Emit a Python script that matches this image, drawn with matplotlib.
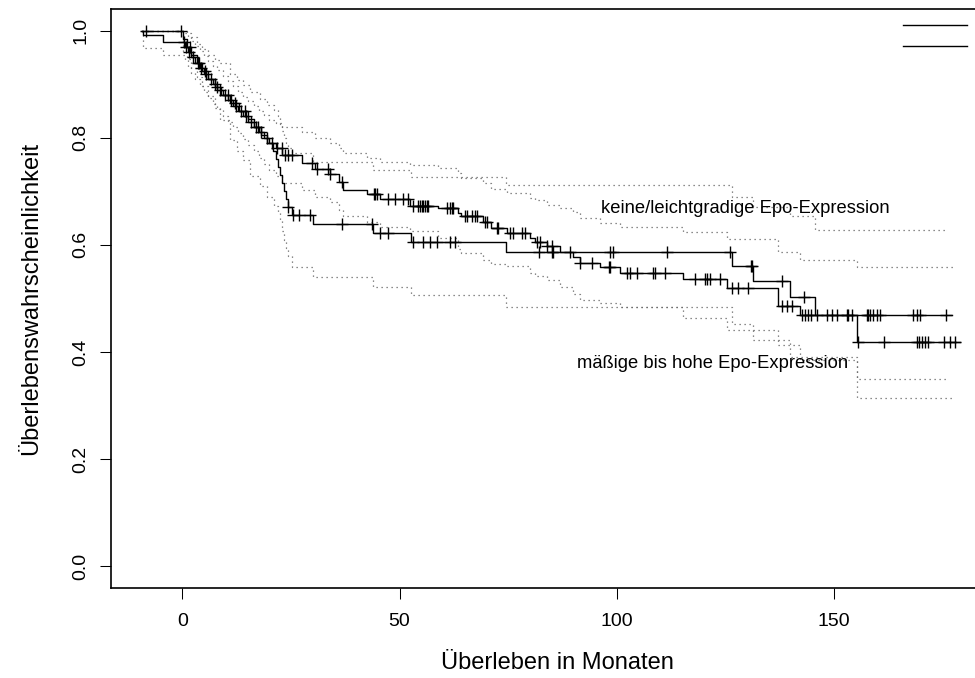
import numpy as np
import matplotlib
matplotlib.use("Agg")
import matplotlib.pyplot as plt
from matplotlib.lines import Line2D

plt.rcParams['font.family'] = ['Liberation Sans', 'DejaVu Sans']

# ---------------- data ----------------
x_ticks = [0, 50, 100, 150]
y_ticks = [0.0, 0.2, 0.4, 0.6, 0.8, 1.0]
y_tick_labels = ["0.0", "0.2", "0.4", "0.6", "0.8", "1.0"]
x_label = "Überleben in Monaten"
y_label = "Überlebenswahrscheinlichkeit"
label_keine = "keine/leichtgradige Epo-Expression"
label_maessig = "mäßige bis hohe Epo-Expression"

start_time = -9.3

# group A (steep early drop)
a_time = [0.2, 1.0, 2.0, 3.3, 4.5, 6.0, 7.5, 9.0, 11.0, 13.0,
          15.0, 16.5, 18.0, 19.5, 20.8, 21.5, 22.0, 22.5, 23.0, 23.4,
          23.8, 24.3, 25.3, 30.1, 43.9, 52.6, 74.6, 126.5, 131.4, 139.9,
          145.6]
a_surv = [0.985, 0.97, 0.955, 0.94, 0.925, 0.91, 0.895, 0.88, 0.865, 0.85,
          0.835, 0.82, 0.805, 0.79, 0.775, 0.76, 0.745, 0.73, 0.715, 0.70,
          0.685, 0.67, 0.655, 0.639, 0.623, 0.606, 0.586, 0.56, 0.532, 0.503,
          0.468]
a_end = 177.1
a_cens = [-8.4, -0.4, 1.8, 3.8, 5.2, 8.0, 10.5, 12.0, 14.5, 17.5,
          24.4, 25.5, 26.8, 29.4, 36.7, 43.6, 45.5, 47.4, 53.2, 55.5,
          57.0, 58.6, 61.6, 62.8, 82.0, 85.0, 85.4, 98.5, 99.2, 111.5,
          126.1, 130.9, 131.2, 138.0, 143.0, 146.0, 148.3, 149.5, 150.6, 152.9,
          153.3, 154.1, 157.5, 157.9, 158.3, 159.0, 159.8, 160.6, 168.3, 169.1,
          169.9, 175.9]
a_band_time = [-9.3, 0.2, 1.0, 2.0, 3.3, 4.5, 6.0, 7.5, 8.7, 11.0,
               12.5, 14.0, 15.6, 17.9, 19.5, 21.0, 22.0, 22.5, 23.0, 23.4,
               23.8, 24.3, 25.3, 30.1, 43.9, 52.6, 74.6, 126.5, 131.4, 139.9,
               145.6, 155.2]
a_upper = [1.0, 1.0, 0.995, 0.988, 0.975, 0.966, 0.955, 0.945, 0.939, 0.92,
           0.908, 0.898, 0.886, 0.872, 0.862, 0.852, 0.84, 0.826, 0.812, 0.80,
           0.79, 0.78, 0.771, 0.755, 0.74, 0.727, 0.712, 0.69, 0.67, 0.653,
           0.628, 0.628]
a_lower = [1.0, 0.96, 0.947, 0.93, 0.914, 0.897, 0.878, 0.855, 0.833, 0.796,
           0.775, 0.758, 0.728, 0.709, 0.69, 0.672, 0.66, 0.646, 0.625, 0.609,
           0.595, 0.58, 0.559, 0.54, 0.522, 0.506, 0.483, 0.453, 0.422, 0.39,
           0.39, 0.349]
a_band_end = 175.9

# group B (larger group, gradual decline)
b_time = [-9.0, -4.4, 0.5, 1.2, 2.0, 3.0, 4.0, 5.0, 6.0, 7.0,
          8.0, 9.3, 10.5, 11.7, 12.9, 14.0, 15.2, 16.4, 17.6, 18.8,
          20.0, 21.5, 23.0, 27.5, 30.5, 34.0, 36.0, 37.0, 42.4, 45.5,
          52.4, 58.9, 63.5, 64.2, 69.2, 71.0, 74.7, 80.0, 81.2, 83.9,
          87.0, 90.0, 91.5, 96.2, 100.8, 115.3, 125.3, 137.2, 142.2, 155.2]
b_surv = [0.992, 0.979, 0.97, 0.96, 0.95, 0.94, 0.93, 0.92, 0.91, 0.90,
          0.89, 0.88, 0.87, 0.86, 0.85, 0.84, 0.83, 0.82, 0.81, 0.80,
          0.79, 0.78, 0.768, 0.752, 0.742, 0.733, 0.718, 0.703, 0.695, 0.686,
          0.672, 0.668, 0.66, 0.653, 0.643, 0.632, 0.623, 0.612, 0.606, 0.597,
          0.587, 0.578, 0.567, 0.559, 0.548, 0.537, 0.52, 0.486, 0.468, 0.419]
b_end = 179.0
b_upper = [1.0, 1.0, 0.995, 0.988, 0.98, 0.972, 0.962, 0.953, 0.944, 0.935,
           0.926, 0.916, 0.906, 0.896, 0.886, 0.877, 0.868, 0.859, 0.85, 0.842,
           0.834, 0.828, 0.82, 0.81, 0.80, 0.79, 0.78, 0.771, 0.762, 0.755,
           0.749, 0.743, 0.735, 0.725, 0.715, 0.705, 0.696, 0.688, 0.684, 0.675,
           0.668, 0.662, 0.65, 0.64, 0.634, 0.624, 0.61, 0.587, 0.572, 0.559]
b_lower = [0.967, 0.954, 0.945, 0.933, 0.921, 0.909, 0.897, 0.886, 0.875, 0.864,
           0.853, 0.841, 0.83, 0.82, 0.808, 0.797, 0.786, 0.775, 0.763, 0.751,
           0.739, 0.728, 0.716, 0.702, 0.69, 0.68, 0.666, 0.653, 0.643, 0.634,
           0.625, 0.612, 0.593, 0.584, 0.572, 0.565, 0.56, 0.548, 0.542, 0.535,
           0.522, 0.509, 0.497, 0.491, 0.484, 0.463, 0.441, 0.412, 0.385, 0.313]
b_band_end = 177.9
b_cens = [0.3, 0.8, 1.5, 2.5, 3.5, 4.4, 5.5, 6.6, 7.6, 8.6,
          9.8, 11.2, 12.4, 13.5, 14.6, 15.8, 17.0, 18.2, 19.4, 20.6,
          21.8, 22.9, 23.6, 24.4, 25.2, 29.8, 30.9, 33.6, 34.0, 36.7,
          44.0, 44.4, 44.7, 47.4, 49.0, 50.9, 52.0, 53.2, 54.3, 54.7,
          55.1, 55.5, 55.9, 56.3, 56.6, 60.9, 61.6, 62.0, 62.4, 65.1,
          65.5, 66.6, 67.4, 67.8, 69.7, 70.1, 72.4, 72.7, 75.4, 76.2,
          78.1, 78.9, 81.6, 82.3, 83.9, 85.0, 89.2, 91.5, 94.2, 98.1,
          98.5, 102.3, 103.1, 104.6, 108.4, 108.8, 111.1, 118.0, 120.3, 120.7,
          121.5, 123.8, 126.5, 128.0, 130.3, 138.0, 139.1, 140.3, 142.6, 143.3,
          144.1, 144.8, 155.6, 161.5, 169.2, 169.6, 170.2, 171.0, 171.7, 175.4,
          176.7, 177.9]

# ---------------- figure ----------------
W, H = 975, 678
fig = plt.figure(figsize=(W / 100, H / 100), dpi=100)
ax_left, ax_right_px = 110.7, 994.7
ax_top, ax_bottom = 9.3, 587.7
ax = fig.add_axes([ax_left / W, 1 - ax_bottom / H,
                   (ax_right_px - ax_left) / W, (ax_bottom - ax_top) / H])
ax.set_xlim(-16.5, 187.0)
ax.set_ylim(-0.0405, 1.04)


def step_xy(t0, times, vals, t_end, v0=1.0):
    xs = [t0] + list(times) + [t_end]
    ys = [v0] + list(vals) + [vals[-1]]
    return xs, ys


def surv_at(times, vals, t, v0=1.0):
    idx = np.searchsorted(np.asarray(times), np.asarray(t), side='right') - 1
    arr = np.asarray(vals)
    return np.where(idx >= 0, arr[np.clip(idx, 0, None)], v0)


band_kw = dict(where='post', color='0.4', lw=0.9, linestyle=(0, (1, 3)))
# bands A
xs, ys = step_xy(a_band_time[0], a_band_time[1:], a_upper[1:], a_band_end, a_upper[0])
ax.step(xs, ys, **band_kw)
xs, ys = step_xy(a_band_time[0], a_band_time[1:], a_lower[1:], a_band_end, a_lower[0])
ax.step(xs, ys, **band_kw)
# bands B
xs, ys = step_xy(start_time, b_time, b_upper, b_band_end)
ax.step(xs, ys, **band_kw)
xs, ys = step_xy(start_time, b_time, b_lower, b_band_end)
ax.step(xs, ys, **band_kw)

# curves
curve_kw = dict(where='post', color='black', lw=1.0)
xs, ys = step_xy(start_time, a_time, a_surv, a_end)
ax.step(xs, ys, **curve_kw)
xs, ys = step_xy(start_time, b_time, b_surv, b_end)
ax.step(xs, ys, **curve_kw)

# censoring marks
mk = dict(marker='+', linestyle='none', color='black', markersize=9, markeredgewidth=1.0)
ax.plot(a_cens, surv_at(a_time, a_surv, a_cens), **mk)
ax.plot(b_cens, surv_at(b_time, b_surv, b_cens), **mk)

# in-plot labels
ax.text(162.9, 0.659, label_keine, ha='right', va='baseline', fontsize=13.2)
ax.text(153.3, 0.369, label_maessig, ha='right', va='baseline', fontsize=13.2)

# axes styling
ax.set_xticks(x_ticks)
ax.set_xticklabels([str(v) for v in x_ticks])
ax.set_yticks(y_ticks)
ax.set_yticklabels(y_tick_labels, rotation=90, va='center')
ax.tick_params(axis='both', direction='out', length=8, width=0.75, labelsize=14)
ax.tick_params(axis='x', pad=10.5)
ax.tick_params(axis='y', pad=7.5)
for s in ax.spines.values():
    s.set_linewidth(1.2)

fig.text(557.0 / W, 1 - 663.0 / H, x_label, ha='center', va='center', fontsize=17)
fig.text(31.0 / W, 1 - 298.5 / H, y_label, ha='center', va='center', rotation=90, fontsize=17)

# legend lines (labels fall outside the visible area)
for yy in (25, 46):
    fig.add_artist(Line2D([902.7 / W, 966.7 / W], [1 - yy / H, 1 - yy / H],
                          color='black', lw=1.0, transform=fig.transFigure))

fig.savefig("out.png", dpi=100)
